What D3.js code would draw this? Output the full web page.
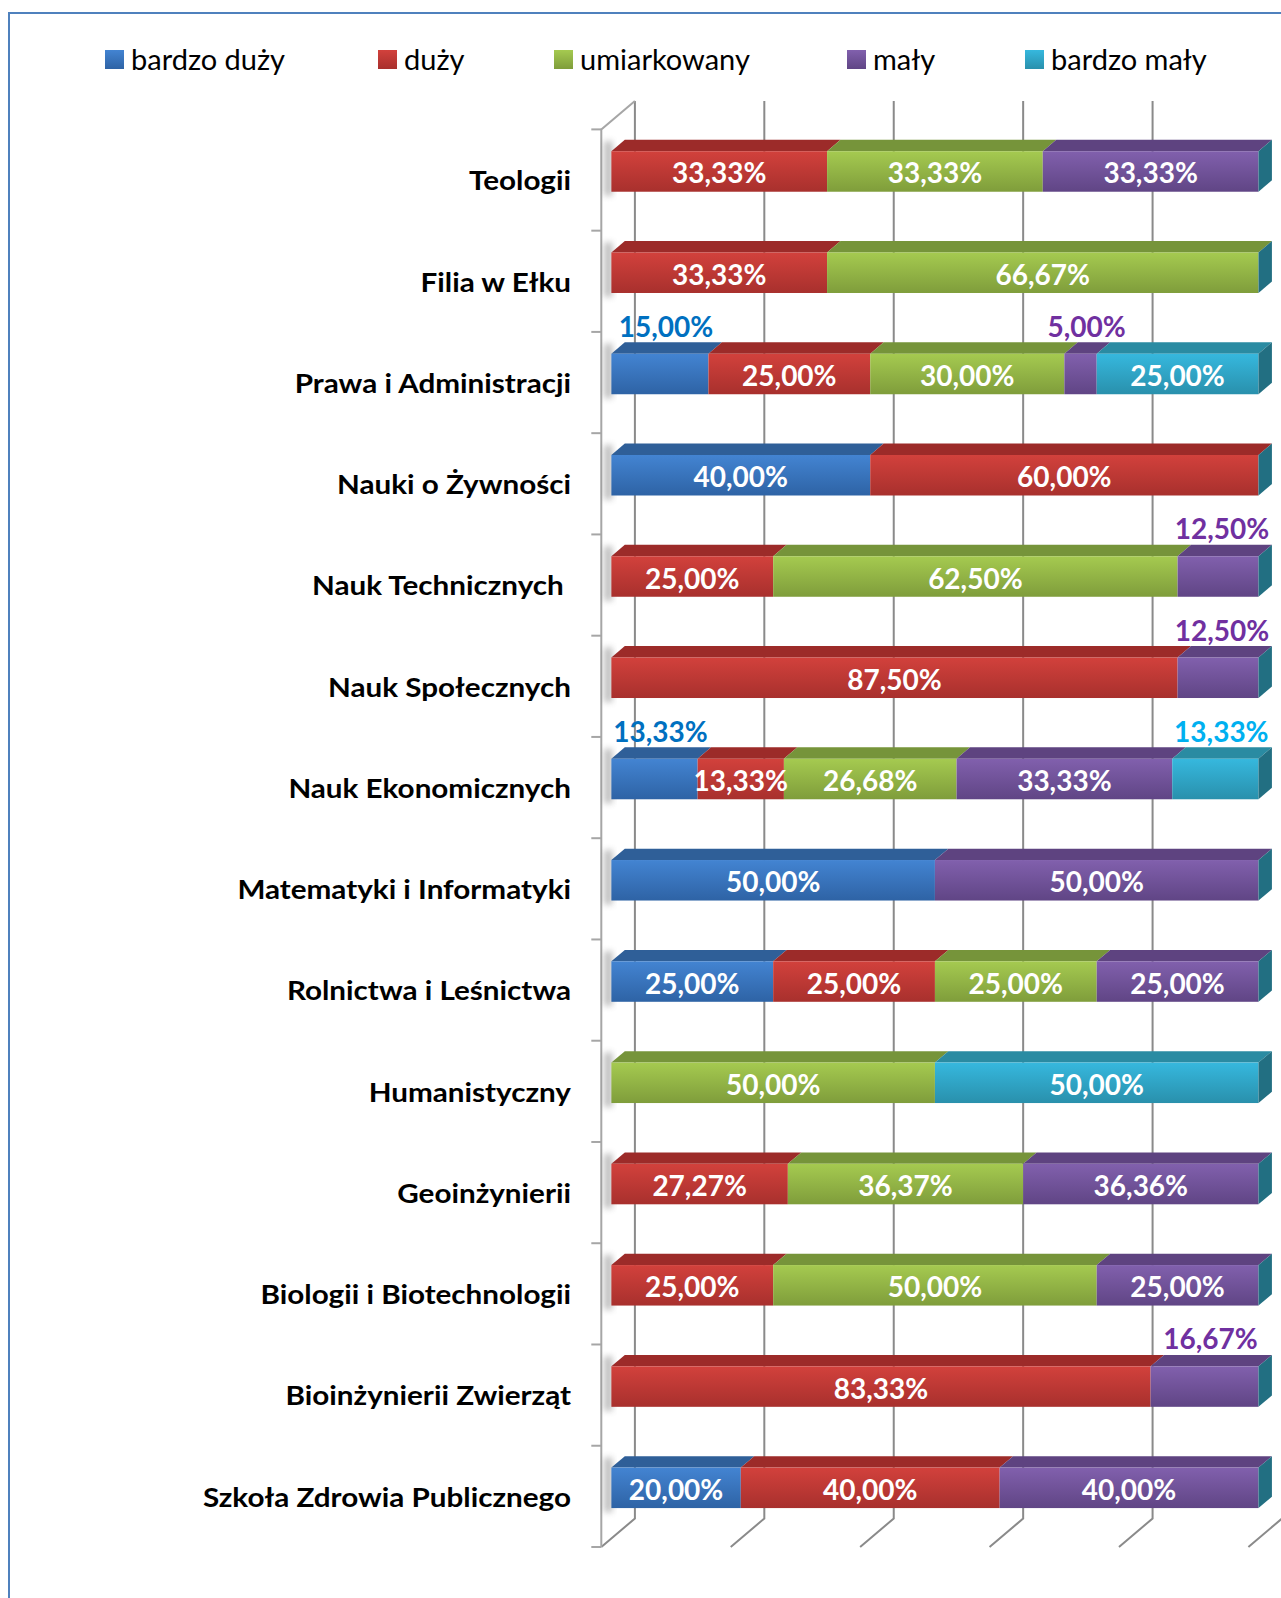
<!DOCTYPE html>
<html><head><meta charset="utf-8">
<script src="https://cdn.jsdelivr.net/npm/d3@7"></script>
<style>body{margin:0;background:#fff}svg{display:block}text{font-family:Lato,"Open Sans",sans-serif}</style>
</head><body>
<script>
const categories = ["Teologii","Filia w Ełku","Prawa i Administracji","Nauki o Żywności","Nauk Technicznych ","Nauk Społecznych","Nauk Ekonomicznych","Matematyki i Informatyki","Rolnictwa i Leśnictwa","Humanistyczny","Geoinżynierii","Biologii i Biotechnologii","Bioinżynierii Zwierząt","Szkoła Zdrowia Publicznego"];
const seriesNames = ["bardzo duży","duży","umiarkowany","mały","bardzo mały"];
const bardzoDuzy  = [0,0,15,40,0,0,13.33,50,25,0,0,0,0,20];
const duzy        = [33.33,33.33,25,60,25,87.5,13.33,0,25,0,27.27,25,83.33,40];
const umiarkowany = [33.33,66.67,30,0,62.5,0,26.68,0,25,50,36.37,50,0,0];
const maly        = [33.33,0,5,0,12.5,12.5,33.33,50,25,0,36.36,25,16.67,40];
const bardzoMaly  = [0,0,25,0,0,0,13.33,0,0,50,0,0,0,0];
const xTicks = [0,20,40,60,80,100];
// labels drawn above the bar: [category index, series index]
const labelsAbove = [[2,0],[2,3],[4,3],[5,3],[6,0],[6,4],[12,3]];

const seriesValues = [bardzoDuzy, duzy, umiarkowany, maly, bardzoMaly];
const faceTop    = ["#4384D2","#D2413C","#A5CA50","#8160AD","#36B8DE"];
const faceBottom = ["#2E63A5","#A8302D","#7F9D3B","#604585","#2990AC"];
const topColor   = ["#2F5F98","#9C2B29","#76943A","#5E4380","#2A8BA2"];
const aboveColor = ["#0070C0","#C00000","#76923C","#7030A0","#00B0F0"];

const W = 1281, H = 1598;
const svg = d3.select("body").append("svg").attr("width", W).attr("height", H);
const defs = svg.append("defs");
seriesNames.forEach((s,i)=>{
  const g = defs.append("linearGradient").attr("id","g"+i).attr("x1",0).attr("y1",0).attr("x2",0).attr("y2",1);
  g.append("stop").attr("offset","0%").attr("stop-color",faceTop[i]);
  g.append("stop").attr("offset","100%").attr("stop-color",faceBottom[i]);
});
defs.append("filter").attr("id","blur").attr("x","-50%").attr("y","-50%").attr("width","200%").attr("height","200%")
  .append("feGaussianBlur").attr("stdDeviation",3);

// border
svg.append("rect").attr("x",9).attr("y",13).attr("width",1300).attr("height",1620)
  .attr("fill","none").attr("stroke","#4F81BD").attr("stroke-width",2);

// geometry
const x0 = 601.3, x1 = 1248.4, yTop = 129.4, yBot = 1547;
const DX = 33.6, DY = -28.5; // depth vector (front -> back)
const x = d3.scaleLinear().domain([0,100]).range([x0,x1]);
const y = d3.scaleBand().domain(categories).range([yTop,yBot]).paddingInner(0.6).paddingOuter(0.3);
const fr = 0.3, bk = 0.7; // bar depth fraction

// back wall gridlines + floor lines
const grid = svg.append("g").attr("stroke","#8A8A8A").attr("stroke-width",2).attr("fill","none");
xTicks.forEach(t=>{
  const xb = x(t)+DX;
  grid.append("path").attr("d",`M${xb},${yTop+DY}L${xb},${yBot+DY}L${x(t)},${yBot}`);
});
// left wall
const wall = svg.append("g").attr("stroke","#A6A6A6").attr("stroke-width",2).attr("fill","none");
wall.append("path").attr("d",`M${x0},${yBot}L${x0},${yTop}L${x0+DX},${yTop+DY}`);
const step = y.step();
for(let i=0;i<=categories.length;i++){
  const yy = yTop + i*step;
  wall.append("line").attr("x1",x0-10).attr("x2",x0).attr("y1",yy).attr("y2",yy);
}

// category labels
svg.append("g").selectAll("text").data(categories).join("text")
  .attr("transform",d=>`translate(571,${y(d)+y.bandwidth()/2}) scale(1.14,1)`)
  .attr("text-anchor","end").attr("dominant-baseline","central")
  .style("white-space","pre")
  .attr("font-size",26).attr("font-weight","bold").attr("fill","#000").text(d=>d);

// bars
const bw = y.bandwidth();
const fmt = v => d3.format(".2f")(v).replace(".",",")+"%";
const barG = svg.append("g");
const lblG = svg.append("g");
categories.forEach((c,ci)=>{
  const total = d3.sum(seriesValues, s=>s[ci]);
  const fy = y(c) + fr*DY;           // front face top
  const fxo = fr*DX;
  const ddx = (bk-fr)*DX, ddy = (bk-fr)*DY;
  // shadow on wall
  barG.append("rect").attr("x",x0+3).attr("y",fy-10).attr("width",8).attr("height",bw+14)
    .attr("fill","#6a6a6a").attr("opacity",0.45).attr("filter","url(#blur)");
  let acc = 0;
  seriesValues.forEach((s,si)=>{
    const v = s[ci];
    const a = acc/total*100, b = (acc+v)/total*100;
    acc += v;
    if(v<=0) return;
    const xa = x(a)+fxo, xb = x(b)+fxo;
    barG.append("path").attr("d",`M${xa},${fy}L${xa+ddx},${fy+ddy}L${xb+ddx},${fy+ddy}L${xb},${fy}Z`).attr("fill",topColor[si]);
    barG.append("rect").attr("x",xa).attr("y",fy).attr("width",xb-xa).attr("height",bw).attr("fill",`url(#g${si})`);
    const above = labelsAbove.some(p=>p[0]===ci&&p[1]===si);
    let lx = (xa+xb)/2 + (above?6:0);
    const ly = above ? fy-28 : fy+bw/2+1;
    if(above) lx = Math.min(lx, 1270-48);
    lblG.append("text").attr("x",lx).attr("y",ly).attr("text-anchor","middle").attr("dominant-baseline","central")
      .attr("font-size",28).attr("font-weight","bold").attr("fill",above?aboveColor[si]:"#fff").text(fmt(v));
  });
  // end side face
  const xe = x(100)+fxo;
  barG.append("path").attr("d",`M${xe},${fy}L${xe+ddx},${fy+ddy}L${xe+ddx},${fy+ddy+bw}L${xe},${fy+bw}Z`).attr("fill","#226F82");
});

// legend
const legX = [105,378,554,847,1025];
const leg = svg.append("g");
seriesNames.forEach((s,i)=>{
  leg.append("rect").attr("x",legX[i]).attr("y",50).attr("width",19).attr("height",19).attr("fill",`url(#g${i})`);
  leg.append("text").attr("x",legX[i]+26).attr("y",58).attr("dominant-baseline","central")
    .attr("font-size",29).attr("fill","#000").text(s);
});
</script>
</body></html>
